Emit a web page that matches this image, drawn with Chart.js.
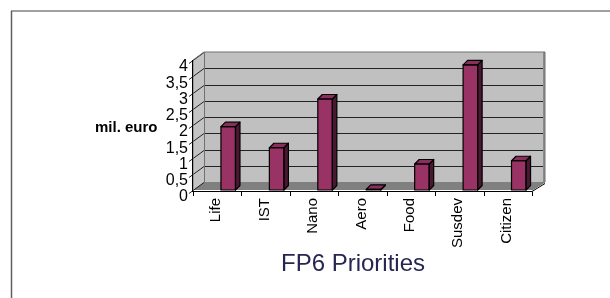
<!DOCTYPE html>
<html>
<head>
<meta charset="utf-8">
<script src="https://cdn.jsdelivr.net/npm/chart.js@4.4.1/dist/chart.umd.min.js"></script>
<style>
html,body{margin:0;padding:0;background:#fff;}
#wrap{position:relative;width:610px;height:298px;}
</style>
</head>
<body>
<div id="wrap"><canvas id="c" width="610" height="298"></canvas></div>
<script>
// ---- data ----
const categories = ['Life', 'IST', 'Nano', 'Aero', 'Food', 'Susdev', 'Citizen'];
const values = [1.95, 1.3, 2.8, 0.02, 0.8, 3.85, 0.9];
const yTickValues = [0, 0.5, 1, 1.5, 2, 2.5, 3, 3.5, 4];
const yAxisTitle = 'mil. euro';
const xAxisTitle = 'FP6 Priorities';

// ---- style ----
const FONT = "'Liberation Sans', Arial, sans-serif";
const WALL_DX = 11;
const WALL_DY = 8;
const BAR_D = 4.5;
const BAR_FRONT = '#993366', BAR_SIDE = '#4a1832', BAR_TOP = '#8a2e5c';

Chart.defaults.font.family = FONT;
Chart.defaults.color = '#000';

const fmt = v => String(v).replace('.', ',');

const scene = {
  id: 'scene',
  beforeDraw(chart) {
    const ctx = chart.ctx;
    ctx.save();
    ctx.fillStyle = '#fff';
    ctx.fillRect(0, 0, chart.width, chart.height);
    ctx.strokeStyle = '#a0a0a0'; ctx.lineWidth = 2;
    ctx.beginPath(); ctx.moveTo(11, 11); ctx.lineTo(chart.width, 11); ctx.stroke();
    ctx.strokeStyle = '#606060'; ctx.lineWidth = 1.5;
    ctx.beginPath(); ctx.moveTo(11.5, 11); ctx.lineTo(11.5, chart.height); ctx.stroke();
    ctx.restore();
  },
  beforeDatasetsDraw(chart) {
    const ctx = chart.ctx, ys = chart.scales.y, xs = chart.scales.x;
    const L = chart.chartArea.left, R = chart.chartArea.right;
    const y0 = ys.getPixelForValue(0), yTop = ys.getPixelForValue(yTickValues[yTickValues.length - 1]);
    const fL = L - WALL_DX, fR = R - WALL_DX;
    ctx.save();
    ctx.fillStyle = '#c4c4c4';
    ctx.beginPath();
    ctx.moveTo(fL, yTop); ctx.lineTo(L, yTop - WALL_DY); ctx.lineTo(L, y0 - WALL_DY); ctx.lineTo(fL, y0);
    ctx.closePath(); ctx.fill();
    ctx.fillStyle = '#c0c0c0';
    ctx.fillRect(L, yTop - WALL_DY, R - L, y0 - yTop);
    ctx.fillStyle = '#8a8a8a';
    ctx.fillRect(R, yTop - WALL_DY, 2, y0 - yTop);
    ctx.fillStyle = '#808080';
    ctx.beginPath();
    ctx.moveTo(fL, y0); ctx.lineTo(fR, y0); ctx.lineTo(R + 2, y0 - WALL_DY); ctx.lineTo(L, y0 - WALL_DY);
    ctx.closePath(); ctx.fill();
    ctx.strokeStyle = '#222'; ctx.lineWidth = 1;
    yTickValues.forEach(v => {
      const py = Math.round(ys.getPixelForValue(v)) + 0.5;
      if (v > 0 && v < yTickValues[yTickValues.length - 1]) {
        ctx.beginPath(); ctx.moveTo(L, py - WALL_DY); ctx.lineTo(R, py - WALL_DY); ctx.stroke();
      }
      ctx.beginPath(); ctx.moveTo(fL - 4, py + 3); ctx.lineTo(L, py - WALL_DY); ctx.stroke();
    });
    ctx.strokeStyle = '#707070';
    ctx.beginPath();
    ctx.moveTo(fL, y0); ctx.lineTo(fL, yTop); ctx.lineTo(L, yTop - WALL_DY);
    ctx.lineTo(R + 2, yTop - WALL_DY); ctx.lineTo(R + 2, y0 - WALL_DY); ctx.lineTo(fR, y0);
    ctx.stroke();
    ctx.beginPath(); ctx.moveTo(L + 0.5, yTop - WALL_DY); ctx.lineTo(L + 0.5, y0 - WALL_DY); ctx.stroke();
    ctx.strokeStyle = '#000';
    ctx.beginPath(); ctx.moveTo(fL - 0.5, yTop); ctx.lineTo(fL - 0.5, y0 + 2); ctx.stroke();
    ctx.beginPath(); ctx.moveTo(fL, y0 + 1.5); ctx.lineTo(fR, y0 + 1.5); ctx.lineTo(R + 2, y0 - WALL_DY + 1.5); ctx.stroke();
    for (let i = 0; i <= categories.length; i++) {
      const px = Math.round(xs.getPixelForValue(i - 0.5) - WALL_DX) + 0.5;
      ctx.beginPath(); ctx.moveTo(px, y0 + 1.5); ctx.lineTo(px, y0 + 6); ctx.stroke();
    }
    ctx.restore();
  },
  afterDatasetsDraw(chart) {
    const ctx = chart.ctx;
    const meta = chart.getDatasetMeta(0);
    ctx.save();
    ctx.strokeStyle = '#000'; ctx.lineWidth = 1.2; ctx.lineJoin = 'round';
    meta.data.forEach(bar => {
      const { x, y, base, width } = bar.getProps(['x', 'y', 'base', 'width'], true);
      const l = x - width / 2, r = x + width / 2;
      ctx.fillStyle = BAR_SIDE;
      ctx.beginPath();
      ctx.moveTo(r, y); ctx.lineTo(r + BAR_D, y - BAR_D); ctx.lineTo(r + BAR_D, base - BAR_D); ctx.lineTo(r, base);
      ctx.closePath(); ctx.fill(); ctx.stroke();
      ctx.fillStyle = BAR_TOP;
      ctx.beginPath();
      ctx.moveTo(l, y); ctx.lineTo(l + BAR_D, y - BAR_D); ctx.lineTo(r + BAR_D, y - BAR_D); ctx.lineTo(r, y);
      ctx.closePath(); ctx.fill(); ctx.stroke();
      ctx.strokeRect(l, y, width, base - y);
    });
    ctx.restore();
  },
  afterDraw(chart) {
    const ctx = chart.ctx;
    ctx.save();
    ctx.fillStyle = '#000';
    ctx.font = 'bold 15px ' + FONT;
    ctx.textAlign = 'left'; ctx.textBaseline = 'middle';
    ctx.fillText(yAxisTitle, 95, 128);
    ctx.fillStyle = '#262650';
    ctx.font = '24px ' + FONT;
    ctx.textAlign = 'center';
    ctx.fillText(xAxisTitle, 353, 264);
    ctx.restore();
  }
};

new Chart(document.getElementById('c'), {
  type: 'bar',
  data: {
    labels: categories,
    datasets: [{
      data: values,
      backgroundColor: BAR_FRONT,
      borderWidth: 0,
      categoryPercentage: 1,
      barPercentage: 0.3
    }]
  },
  options: {
    responsive: false,
    animation: false,
    events: [],
    layout: { padding: { left: 0, right: 67, top: 60, bottom: 0 } },
    plugins: { legend: { display: false }, tooltip: { enabled: false } },
    scales: {
      x: {
        grid: { display: false, drawTicks: false },
        border: { display: false },
        afterFit(s) { s.height = 108; },
        ticks: { minRotation: 90, maxRotation: 90, autoSkip: false, padding: 8, labelOffset: -12, font: { size: 15 }, color: '#000' }
      },
      y: {
        min: 0, max: 4,
        grid: { display: false, drawTicks: false },
        border: { display: false },
        afterFit(s) { s.width = 204; },
        afterBuildTicks(s) { s.ticks = yTickValues.map(v => ({ value: v })); },
        ticks: { autoSkip: false, padding: 16, labelOffset: 7, font: { size: 16 }, color: '#000', callback: v => fmt(v) }
      }
    }
  },
  plugins: [scene]
});
</script>
</body>
</html>
